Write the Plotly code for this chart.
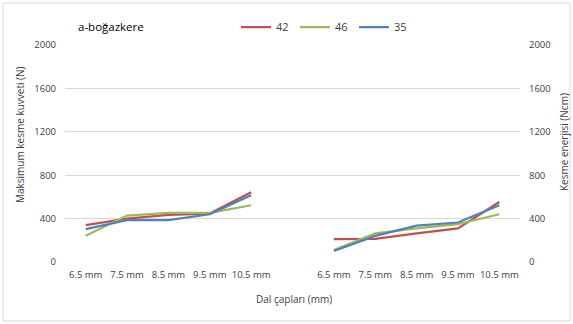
import plotly.graph_objects as go

categories = ["6.5 mm", "7.5 mm", "8.5 mm", "9.5 mm", "10.5 mm"]
series_names = ["42", "46", "35"]
colors = ["#C0504D", "#9BBB59", "#4F81BD"]

# Maksimum kesme kuvveti (N) - left axis
force = {
    "42": [340, 400, 434, 446, 642],
    "46": [241, 428, 452, 452, 523],
    "35": [303, 385, 385, 440, 615],
}
# Kesme enerjisi (Ncm) - right axis
energy = {
    "42": [211, 213, 263, 309, 553],
    "46": [110, 263, 309, 349, 440],
    "35": [101, 241, 336, 364, 523],
}

left_x = list(range(0, 5))
right_x = list(range(6, 11))
tick_vals = left_x + right_x
tick_text = categories + categories

fig = go.Figure()
for name, col in zip(series_names, colors):
    fig.add_trace(go.Scatter(x=left_x, y=force[name], mode="lines", name=name,
                             line=dict(color=col, width=2.25), legendgroup=name,
                             yaxis="y"))
for name, col in zip(series_names, colors):
    fig.add_trace(go.Scatter(x=right_x, y=energy[name], mode="lines", name=name,
                             line=dict(color=col, width=2.25), legendgroup=name,
                             showlegend=False, yaxis="y2"))

W, H = 573, 324
L, R, T, B = 65, 53, 45, 62
pw, ph = W - L - R, H - T - B

tc = "#404040"
fam = "Open Sans, Liberation Sans, sans-serif"


def px_x(v):
    return (v - L) / pw


def px_y(v):
    return (H - v - B) / ph


title_font = dict(size=10, color=tc)

fig.update_layout(
    width=W, height=H,
    margin=dict(l=L, r=R, t=T, b=B, autoexpand=False),
    paper_bgcolor="white", plot_bgcolor="white",
    font=dict(family=fam, size=10, color=tc),
    showlegend=True,
    legend=dict(orientation="h", x=px_x(236), xanchor="left",
                y=px_y(27), yanchor="middle",
                font=dict(size=11, color=tc), bgcolor="rgba(0,0,0,0)",
                itemwidth=30, tracegroupgap=0, entrywidth=14, entrywidthmode="pixels"),
    xaxis=dict(range=[-0.5, 10.5], tickmode="array", tickvals=tick_vals, ticktext=tick_text,
               showgrid=False, zeroline=False, showline=False, ticks="", automargin=False,
               ticklabelstandoff=5, tickfont=dict(size=9.5, color=tc)),
    yaxis=dict(range=[0, 2000], dtick=400, showgrid=True, gridcolor="#D9D9D9", gridwidth=1,
               zeroline=False, showline=False, ticks="", automargin=False, ticklabelstandoff=8,
               tickfont=dict(size=9.5, color=tc)),
    yaxis2=dict(range=[0, 2000], dtick=400, overlaying="y", side="right", showgrid=False,
                zeroline=False, showline=False, ticks="", automargin=False, ticklabelstandoff=8,
                tickfont=dict(size=9.5, color=tc)),
    annotations=[
        dict(text="a-boğazkere", xref="paper", yref="paper",
             x=px_x(76), y=px_y(27), xanchor="left", yanchor="middle",
             showarrow=False, font=dict(size=11.5, color="#000000")),
        dict(text="Dal çapları (mm)", xref="paper", yref="paper",
             x=px_x(294), y=px_y(299), xanchor="center", yanchor="middle",
             showarrow=False, font=title_font),
        dict(text="Maksimum kesme kuvveti (N)", xref="paper", yref="paper", textangle=-90,
             x=px_x(20), y=px_y(135), xanchor="center", yanchor="middle",
             showarrow=False, font=title_font),
        dict(text="Kesme enerjisi (Ncm)", xref="paper", yref="paper", textangle=-90,
             x=px_x(564), y=px_y(142), xanchor="center", yanchor="middle",
             showarrow=False, font=title_font),
    ],
    shapes=[dict(type="rect", xref="paper", yref="paper",
                 x0=px_x(3), x1=px_x(570), y0=px_y(321), y1=px_y(3),
                 line=dict(color="#D9D9D9", width=1), fillcolor="rgba(0,0,0,0)", layer="below")],
)

fig.write_html("out.html", config={"displayModeBar": False},
               post_script="document.body.style.margin='0';")
